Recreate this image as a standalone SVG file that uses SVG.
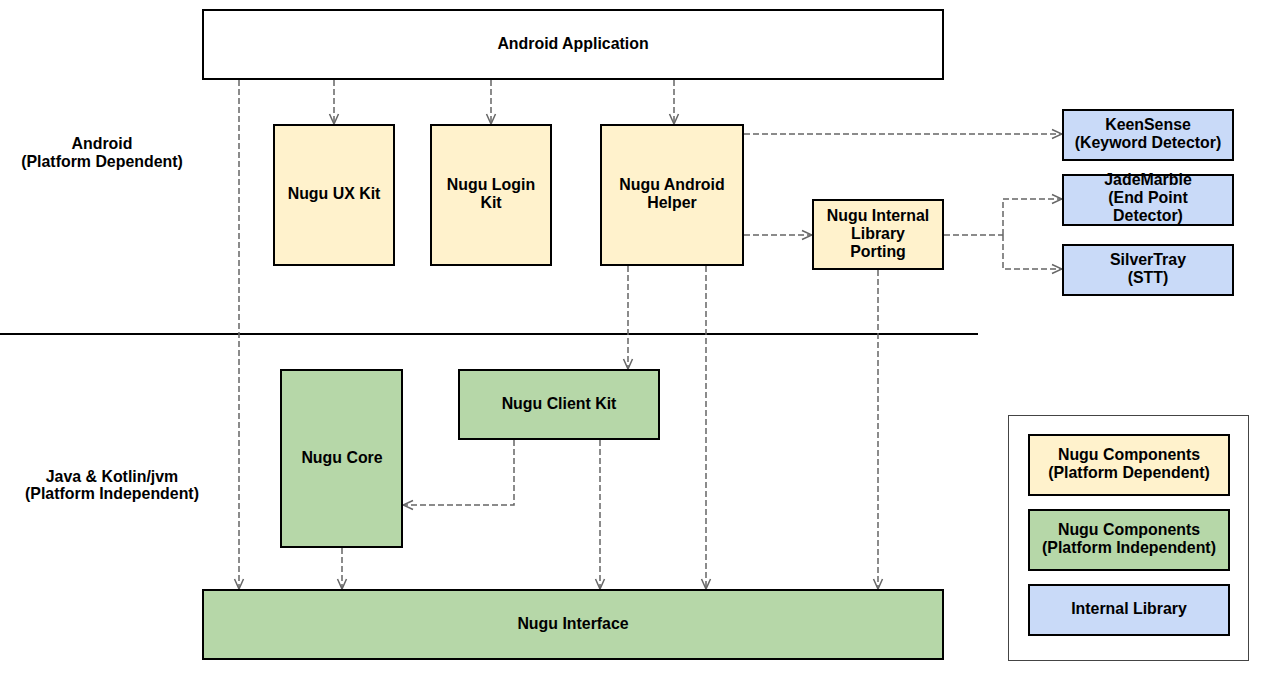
<svg xmlns="http://www.w3.org/2000/svg" width="1268" height="680" viewBox="0 0 1268 680">
<style>
.n{stroke:#000;stroke-width:2}
.y{fill:#fff2cc}.g{fill:#b6d7a8}.b{fill:#c9daf8}.w{fill:#fff}
.t{font-family:"Liberation Sans",Arial,sans-serif;font-weight:bold;font-size:15.9px;fill:#000;text-anchor:middle}
.c{fill:none;stroke:#666;stroke-width:1.5;stroke-dasharray:6 3;marker-end:url(#a)}
.cl{fill:none;stroke:#666;stroke-width:1.5;stroke-dasharray:6 3}
</style>
<defs>
<marker id="a" viewBox="0 0 12 12" refX="11" refY="6" markerWidth="12" markerHeight="12" markerUnits="userSpaceOnUse" orient="auto">
<path d="M1,1.5 L11,6 L1,10.5" fill="none" stroke="#666" stroke-width="1.5"/>
</marker>
</defs>
<rect width="1268" height="680" fill="#fff"/>
<line x1="0" y1="334" x2="978" y2="334" stroke="#000" stroke-width="2"/>
<text class="t" x="102" y="149">Android</text>
<text class="t" x="102" y="167">(Platform Dependent)</text>
<text class="t" x="112" y="482">Java &amp; Kotlin/jvm</text>
<text class="t" x="112" y="499">(Platform Independent)</text>
<g id="connectors">
<path class="c" d="M239,80 V589"/>
<path class="c" d="M334,80 V124"/>
<path class="c" d="M491,80 V124"/>
<path class="c" d="M674,80 V124"/>
<path class="c" d="M744,134 H1062"/>
<path class="c" d="M744,235 H812"/>
<path class="cl" d="M944,235 H1003"/>
<path class="c" d="M1003,235 V199 H1062"/>
<path class="c" d="M1003,235 V269 H1062"/>
<path class="c" d="M628,266 V369"/>
<path class="c" d="M706,266 V589"/>
<path class="c" d="M878,270 V589"/>
<path class="c" d="M514,440 V505 H403"/>
<path class="c" d="M600,440 V589"/>
<path class="c" d="M342,548 V589"/>
</g>
<g id="android-app"><rect class="n w" x="203" y="10" width="740" height="69"/><text class="t" x="573" y="49">Android Application</text></g>
<g id="ux-kit"><rect class="n y" x="274" y="125" width="120" height="140"/><text class="t" x="334" y="199">Nugu UX Kit</text></g>
<g id="login-kit"><rect class="n y" x="431" y="125" width="120" height="140"/><text class="t" x="491" y="190">Nugu Login</text><text class="t" x="491" y="208">Kit</text></g>
<g id="android-helper"><rect class="n y" x="601" y="125" width="142" height="140"/><text class="t" x="672" y="190">Nugu Android</text><text class="t" x="672" y="208">Helper</text></g>
<g id="porting"><rect class="n y" x="813" y="200" width="130" height="69"/><text class="t" x="878" y="221">Nugu Internal</text><text class="t" x="878" y="239">Library</text><text class="t" x="878" y="257">Porting</text></g>
<g id="keensense"><rect class="n b" x="1063" y="110" width="170" height="50"/><text class="t" x="1148" y="130">KeenSense</text><text class="t" x="1148" y="148">(Keyword Detector)</text></g>
<g id="jademarble"><rect class="n b" x="1063" y="175" width="170" height="50"/><text class="t" x="1148" y="185">JadeMarble</text><text class="t" x="1148" y="203">(End Point</text><text class="t" x="1148" y="221">Detector)</text></g>
<g id="silvertray"><rect class="n b" x="1063" y="245" width="170" height="50"/><text class="t" x="1148" y="265">SilverTray</text><text class="t" x="1148" y="283">(STT)</text></g>
<g id="nugu-core"><rect class="n g" x="281" y="370" width="121" height="177"/><text class="t" x="342" y="463">Nugu Core</text></g>
<g id="client-kit"><rect class="n g" x="459" y="370" width="200" height="69"/><text class="t" x="559" y="409">Nugu Client Kit</text></g>
<g id="nugu-interface"><rect class="n g" x="203" y="590" width="740" height="69"/><text class="t" x="573" y="629">Nugu Interface</text></g>
<g id="legend">
<rect x="1008.5" y="415.5" width="240" height="245" fill="#fff" stroke="#444" stroke-width="1"/>
<rect class="n y" x="1029" y="435" width="200" height="60"/><text class="t" x="1129" y="460">Nugu Components</text><text class="t" x="1129" y="478">(Platform Dependent)</text>
<rect class="n g" x="1029" y="510" width="200" height="60"/><text class="t" x="1129" y="535">Nugu Components</text><text class="t" x="1129" y="553">(Platform Independent)</text>
<rect class="n b" x="1029" y="585" width="200" height="50"/><text class="t" x="1129" y="614">Internal Library</text>
</g>
</svg>
